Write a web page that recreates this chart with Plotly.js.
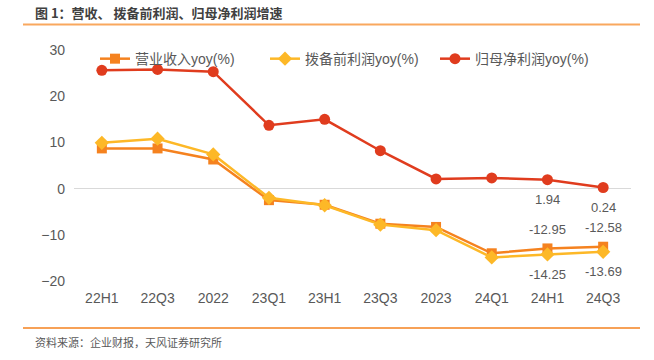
<!DOCTYPE html>
<html>
<head>
<meta charset="utf-8">
<script src="https://cdn.plot.ly/plotly-3.0.1.min.js"></script>
<style>html,body{margin:0;padding:0;background:#fff;}#chart{width:654px;height:360px;}</style>
</head>
<body>
<div id="chart"></div>
<script>
var categories = ['22H1','22Q3','2022','23Q1','23H1','23Q3','2023','24Q1','24H1','24Q3'];
var revenueYoy = [8.7, 8.7, 6.3, -2.5, -3.5, -7.6, -8.3, -14.0, -12.95, -12.58];
var ppopYoy = [9.9, 10.8, 7.4, -2.0, -3.6, -7.8, -9.0, -14.9, -14.25, -13.69];
var netProfitYoy = [25.6, 25.8, 25.3, 13.7, 15.0, 8.2, 2.1, 2.3, 1.94, 0.24];
var revenueLabels = ['', '', '', '', '', '', '', '', '-12.95', '-12.58'];
var ppopLabels = ['', '', '', '', '', '', '', '', '-14.25', '-13.69'];
var netProfitLabels = ['', '', '', '', '', '', '', '', '1.94', '0.24'];
var seriesNames = ['营业收入yoy(%)', '拨备前利润yoy(%)', '归母净利润yoy(%)'];
var yTicks = [-20, -10, 0, 10, 20, 30];

var FONT = 'Liberation Sans, Arial, Noto Sans CJK SC, sans-serif';
var GREY = '#595959';

var traces = [
  {x: categories, y: revenueYoy, name: seriesNames[0], type: 'scatter', mode: 'lines+markers',
   line: {color: '#F5821F', width: 2.5}, marker: {symbol: 'square', size: 10, color: '#F5821F'}},
  {x: categories, y: ppopYoy, name: seriesNames[1], type: 'scatter', mode: 'lines+markers',
   line: {color: '#FDB827', width: 2.5}, marker: {symbol: 'diamond', size: 11, color: '#FDB827'}},
  {x: categories, y: netProfitYoy, name: seriesNames[2], type: 'scatter', mode: 'lines+markers',
   line: {color: '#E03C1E', width: 2.5}, marker: {symbol: 'circle', size: 11, color: '#E03C1E'}}
];

var annotations = [];
function addLabels(vals, labels, shift) {
  for (var i = 0; i < labels.length; i++) {
    if (labels[i] !== '') {
      annotations.push({x: categories[i], y: vals[i], xref: 'x', yref: 'y', text: labels[i],
        showarrow: false, yshift: shift, font: {family: FONT, size: 13, color: GREY}});
    }
  }
}
addLabels(revenueYoy, revenueLabels, 19);
addLabels(ppopYoy, ppopLabels, -20);
addLabels(netProfitYoy, netProfitLabels, -20);

annotations.push({xref: 'paper', yref: 'paper', x: (33 - 74) / 557, y: (281 - 12) / 231,
  xanchor: 'left', yanchor: 'middle', showarrow: false,
  text: '<b>图 1：营收、 拨备前利润、归母净利润增速</b>',
  font: {family: 'Noto Sans CJK SC, sans-serif', size: 13, color: '#404040'}});
annotations.push({xref: 'paper', yref: 'paper', x: (33 - 74) / 557, y: (281 - 342) / 231,
  xanchor: 'left', yanchor: 'middle', showarrow: false,
  text: '资料来源：企业财报，天风证券研究所',
  font: {family: 'Noto Sans CJK SC, sans-serif', size: 11, color: GREY}});

var shapes = [
  {type: 'line', xref: 'paper', yref: 'paper', x0: (23 - 74) / 557, x1: (640 - 74) / 557,
   y0: (281 - 24.5) / 231, y1: (281 - 24.5) / 231, line: {color: '#F9A85E', width: 2}},
  {type: 'line', xref: 'paper', yref: 'paper', x0: (23 - 74) / 557, x1: (640 - 74) / 557,
   y0: (281 - 328) / 231, y1: (281 - 328) / 231, line: {color: '#F5821F', width: 1.5}}
];

var layout = {
  width: 654, height: 360,
  margin: {l: 74, r: 23, t: 50, b: 79},
  paper_bgcolor: '#fff', plot_bgcolor: '#fff',
  showlegend: true,
  legend: {orientation: 'h', x: (95 - 74) / 557, xanchor: 'left', y: 1.03, yanchor: 'top',
    entrywidth: 125, entrywidthmode: 'pixels', bgcolor: 'rgba(0,0,0,0)',
    font: {family: FONT, size: 14, color: GREY}},
  xaxis: {type: 'category', range: [-0.5, 9.5], showgrid: false, zeroline: false, showline: false,
    ticks: '', ticklabelstandoff: 7, tickfont: {family: FONT, size: 14, color: GREY}, fixedrange: true},
  yaxis: {range: [-20, 30], tickvals: yTicks, showgrid: false, zeroline: true,
    zerolinecolor: '#d9d9d9', zerolinewidth: 1.5, showline: false, ticks: '',
    ticklabelstandoff: 8, tickfont: {family: FONT, size: 14, color: GREY}, fixedrange: true},
  annotations: annotations,
  shapes: shapes
};

Plotly.newPlot('chart', traces, layout, {displayModeBar: false, staticPlot: true});
</script>
</body>
</html>
